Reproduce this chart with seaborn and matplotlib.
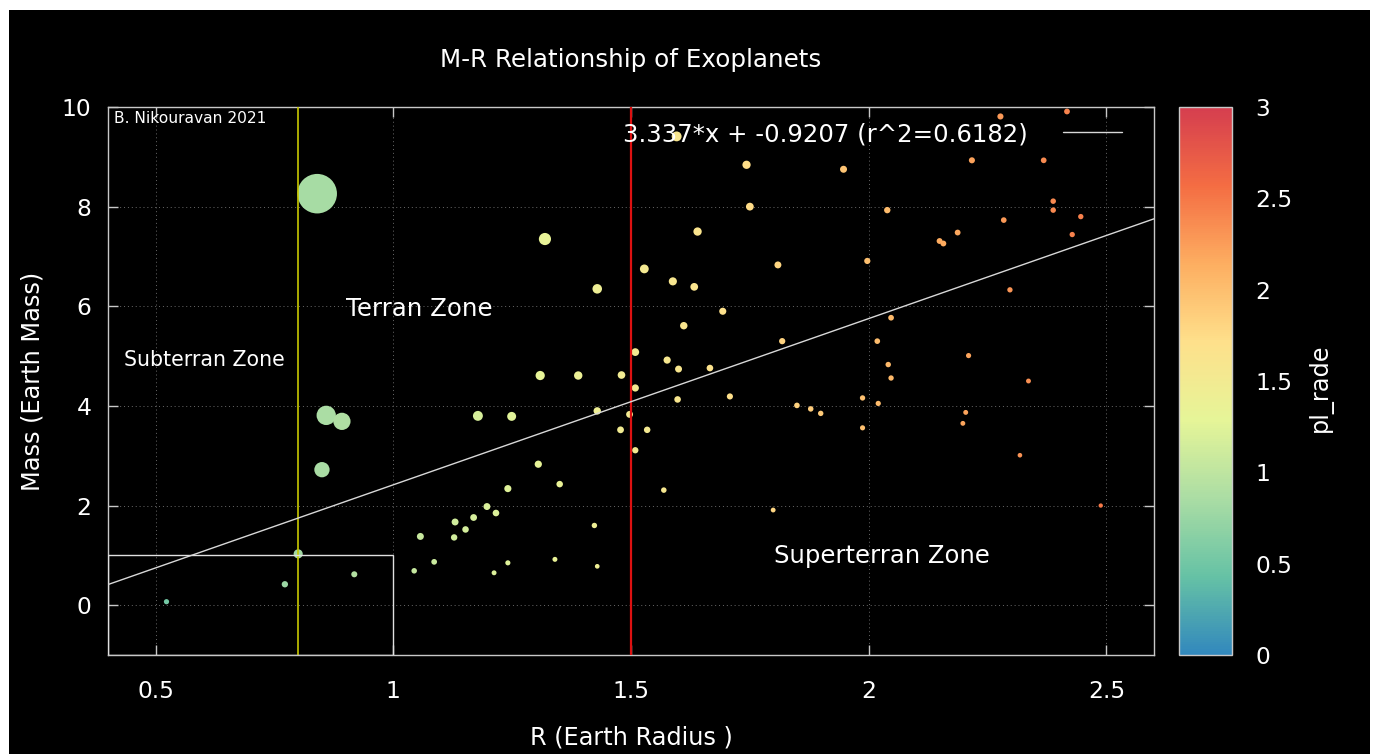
import numpy as np
import pandas as pd
import matplotlib
matplotlib.use("Agg")
import matplotlib.pyplot as plt
import seaborn as sns
from matplotlib.colors import LinearSegmentedColormap, Normalize
from matplotlib.patches import Rectangle
from matplotlib.lines import Line2D
from matplotlib.cm import ScalarMappable
from matplotlib.ticker import FormatStrFormatter

# ---------------- data ----------------
radius = [0.523, 0.772, 0.800, 0.918, 0.840, 0.859, 0.892, 0.850, 1.044, 1.086,
          1.057, 1.130, 1.128, 1.152, 1.169, 1.197, 1.216, 1.212, 1.241, 1.241,
          1.178, 1.249, 1.305, 1.309, 1.389, 1.350, 1.340, 1.429, 1.423, 1.429,
          1.480, 1.497, 1.478, 1.509, 1.509, 1.534, 1.509, 1.576, 1.600, 1.598,
          1.569, 1.611, 1.666, 1.708, 1.693, 1.818, 1.849, 1.878, 1.899, 1.799,
          1.987, 1.987, 2.020, 2.018, 2.041, 2.047, 2.047, 2.210, 2.204, 2.198,
          2.336, 2.318, 2.488, 1.596, 1.743, 1.750, 1.640, 1.528, 1.588, 1.633,
          1.809, 1.947, 1.997, 2.039, 2.149, 2.157, 2.187, 2.217, 2.277, 2.284,
          2.297, 2.368, 2.417, 2.388, 2.388, 2.446, 2.428, 1.319, 1.429]
mass = [0.07, 0.42, 1.03, 0.62, 8.26, 3.81, 3.69, 2.72, 0.69, 0.87,
        1.38, 1.67, 1.36, 1.52, 1.76, 1.98, 1.85, 0.65, 0.85, 2.34,
        3.80, 3.79, 2.83, 4.61, 4.61, 2.43, 0.92, 0.78, 1.60, 3.90,
        4.62, 3.83, 3.52, 4.36, 5.08, 3.52, 3.11, 4.92, 4.74, 4.13,
        2.31, 5.61, 4.76, 4.19, 5.90, 5.30, 4.01, 3.94, 3.85, 1.91,
        4.16, 3.56, 4.05, 5.30, 4.83, 4.56, 5.77, 5.01, 3.87, 3.65,
        4.50, 3.01, 2.00, 9.41, 8.84, 8.00, 7.50, 6.75, 6.50, 6.39,
        6.83, 8.75, 6.91, 7.93, 7.31, 7.26, 7.48, 8.93, 9.81, 7.73,
        6.33, 8.93, 9.91, 8.11, 7.93, 7.80, 7.44, 7.35, 6.35]

fit_slope = 3.337
fit_intercept = -0.9207
fit_r2 = 0.6182
x_ticks = [0.5, 1, 1.5, 2, 2.5]
x_tick_labels = ["0.5", "1", "1.5", "2", "2.5"]
y_ticks = [0, 2, 4, 6, 8, 10]
cbar_ticks = [0, 0.5, 1, 1.5, 2, 2.5, 3]
subterran_limit = 0.8
superterran_limit = 1.5
earth_box_r = 1.0
earth_box_m = 1.0

df = pd.DataFrame({"pl_rade": radius, "mass": mass})
df["density"] = df["mass"] / df["pl_rade"] ** 3
# marker diameter grows with density; area in pt^2
df["area"] = (0.72 * (4.0 + 2.55 * df["density"])) ** 2

# ---------------- style ----------------
sns.set_theme(style="ticks")
plt.rcParams["font.family"] = ["DejaVu Sans"]
plt.rcParams["text.color"] = "white"

spectral = ["#3288bd", "#66c2a5", "#abdda4", "#e6f598",
            "#fee08b", "#fdae61", "#f46d43", "#d53e4f"]
cmap = LinearSegmentedColormap.from_list("gp_spectral", spectral)
norm = Normalize(0, 3)

W, H = 1378, 754
fig = plt.figure(figsize=(W / 100, H / 100), dpi=100)
fig.patch.set_facecolor("white")
fig.add_artist(Rectangle((9 / W, 0), (1370 - 9) / W, (H - 10) / H,
                         transform=fig.transFigure, facecolor="black",
                         edgecolor="none", zorder=-10))

ax = fig.add_axes([108 / W, 1 - 655 / H, (1154 - 108) / W, (655 - 107) / H])
ax.set_facecolor("black")

sns.scatterplot(data=df, x="pl_rade", y="mass", hue="pl_rade",
                palette=cmap, hue_norm=(0, 3),
                size="area", sizes=(df["area"].min(), df["area"].max()),
                size_norm=(df["area"].min(), df["area"].max()),
                linewidth=0, legend=False, ax=ax, zorder=2)

ax.set_xlim(0.4, 2.6)
ax.set_ylim(-1, 10)

# zone lines
ax.axvline(subterran_limit, color="#c8c800", lw=1.2, zorder=3)
ax.axvline(superterran_limit, color="#dd1111", lw=1.6, zorder=3)
ax.add_patch(Rectangle((0.4, -1), earth_box_r - 0.4, earth_box_m + 1,
                       fill=False, edgecolor="#e0e0e0", lw=1.0, zorder=3))

# fit line
xf = np.array(ax.get_xlim())
ax.plot(xf, fit_slope * xf + fit_intercept, color="#d8d8d8", lw=1.0, zorder=3)

# grid, spines, ticks
ax.grid(True, color="#6a6a6a", linestyle=(0, (1, 3)), linewidth=0.7, zorder=0)
for s in ax.spines.values():
    s.set_color("#c8c8c8")
    s.set_linewidth(1.0)
ax.set_xticks(x_ticks)
ax.set_xticklabels(x_tick_labels)
ax.set_yticks(y_ticks)
ax.tick_params(axis="both", direction="in", length=7, width=1, color="#c8c8c8",
               labelcolor="white", labelsize=16.8, top=True, right=True)
ax.tick_params(axis="x", pad=18)
ax.tick_params(axis="y", pad=12)
ax.set_xlabel("")
ax.set_ylabel("")

# texts
ax.text(0.4126, 9.67, "B. Nikouravan 2021", color="white", fontsize=11.2, va="baseline", ha="left")
ax.text(0.4336, 4.81, "Subterran Zone", color="white", fontsize=14.8, va="baseline", ha="left")
ax.text(0.900, 5.80, "Terran Zone", color="white", fontsize=17.6, va="baseline", ha="left")
ax.text(1.801, 0.85, "Superterran Zone", color="white", fontsize=17.5, va="baseline", ha="left")

h = Line2D([], [], color="#d8d8d8", lw=1.0)
ax.legend([h], [f"{fit_slope}*x + {fit_intercept} (r^2={fit_r2})"],
          loc="upper right", bbox_to_anchor=(0.9694, 0.9726),
          frameon=False, markerfirst=False, handlelength=2.42,
          handletextpad=1.44, borderpad=0, borderaxespad=0,
          fontsize=17.6, labelcolor="white")

fig.text(630.5 / W, 1 - 60 / H, "M-R Relationship of Exoplanets", color="white",
         fontsize=17.7, ha="center", va="center")
fig.text(631.5 / W, 1 - 737 / H, "R (Earth Radius )", color="white",
         fontsize=17.3, ha="center", va="center")
fig.text(32.5 / W, 1 - 381 / H, "Mass (Earth Mass)", color="white",
         fontsize=17.3, ha="center", va="center", rotation=90)

# colorbar
cax = fig.add_axes([1179 / W, 1 - 655 / H, 53 / W, 548 / H])
sm = ScalarMappable(norm=norm, cmap=cmap)
cb = fig.colorbar(sm, cax=cax)
cb.outline.set_edgecolor("#c8c8c8")
cb.outline.set_linewidth(1.0)
cb.set_ticks(cbar_ticks)
cax.yaxis.set_major_formatter(FormatStrFormatter("%g"))
cax.tick_params(length=0, labelcolor="white", labelsize=16.8, pad=17)
fig.text(1320 / W, 1 - 388 / H, "pl_rade", color="white", fontsize=17.3,
         ha="center", va="center", rotation=90)

fig.savefig("out.png", dpi=100, facecolor=fig.get_facecolor())
